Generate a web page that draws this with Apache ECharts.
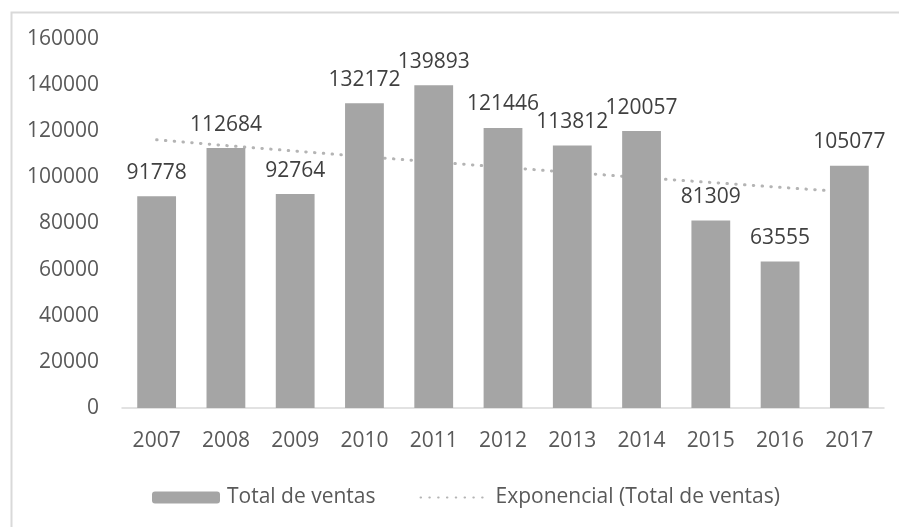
<!DOCTYPE html>
<html>
<head>
<meta charset="utf-8">
<script src="https://cdn.jsdelivr.net/npm/echarts@6/dist/echarts.min.js"></script>
<style>html,body{margin:0;padding:0;background:#fff;}#c{width:899px;height:527px;}</style>
</head>
<body>
<div id="c"></div>
<script>
var years = ['2007','2008','2009','2010','2011','2012','2013','2014','2015','2016','2017'];
var ventas = [91778,112684,92764,132172,139893,121446,113812,120057,81309,63555,105077];
var tendencia = [116300,113800,111400,109000,106700,104400,102100,99900,97800,95700,93600];
var yTicks = [0,20000,40000,60000,80000,100000,120000,140000,160000];
var serieBar = 'Total de ventas';
var serieTrend = 'Exponencial (Total de ventas)';

var FONT = '"Open Sans", "Liberation Sans", sans-serif';
var chart = echarts.init(document.getElementById('c'), null, {renderer:'canvas'});
chart.setOption({
  animation: false,
  backgroundColor: '#ffffff',
  textStyle: {fontFamily: FONT},
  graphic: [{
    type: 'rect', left: 9, top: 10, silent: true, z: -10,
    shape: {width: 1000, height: 1000},
    style: {fill: 'none', stroke: '#d9d9d9', lineWidth: 2}
  }],
  grid: {left: 122, right: 15, top: 39, bottom: 119, containLabel: false},
  legend: {
    left: 147, top: 482,
    data: [serieBar, {name: serieTrend, itemStyle: {opacity: 0}}],
    itemWidth: 68, itemHeight: 12, itemGap: 44,
    textStyle: {color: '#595959', fontSize: 21, fontFamily: FONT, padding: [0,0,0,2]}
  },
  xAxis: {
    type: 'category', data: years,
    axisLine: {lineStyle: {color: '#d9d9d9', width: 1.5}},
    axisTick: {show: false},
    axisLabel: {color: '#595959', fontSize: 21, margin: 23, fontFamily: FONT}
  },
  yAxis: {
    type: 'value', min: yTicks[0], max: yTicks[yTicks.length-1], interval: yTicks[1]-yTicks[0],
    axisLine: {show: false}, axisTick: {show: false}, splitLine: {show: false},
    axisLabel: {color: '#595959', fontSize: 21, margin: 23, fontFamily: FONT,
      formatter: function (v) { return String(v); }}
  },
  series: [
    {
      name: serieBar, type: 'bar', data: ventas, barWidth: '56%', z: 3,
      itemStyle: {color: '#a5a5a5'},
      label: {show: true, position: 'top', distance: 13, color: '#404040', fontSize: 21, fontFamily: FONT}
    },
    {
      name: serieTrend, type: 'line', data: tendencia, symbol: 'none', showSymbol: false, z: 2,
      lineStyle: {color: '#b4b4b4', width: 3, type: [0.5, 8.3], cap: 'round'},
      itemStyle: {color: '#b4b4b4'}
    }
  ]
});
</script>
</body>
</html>
